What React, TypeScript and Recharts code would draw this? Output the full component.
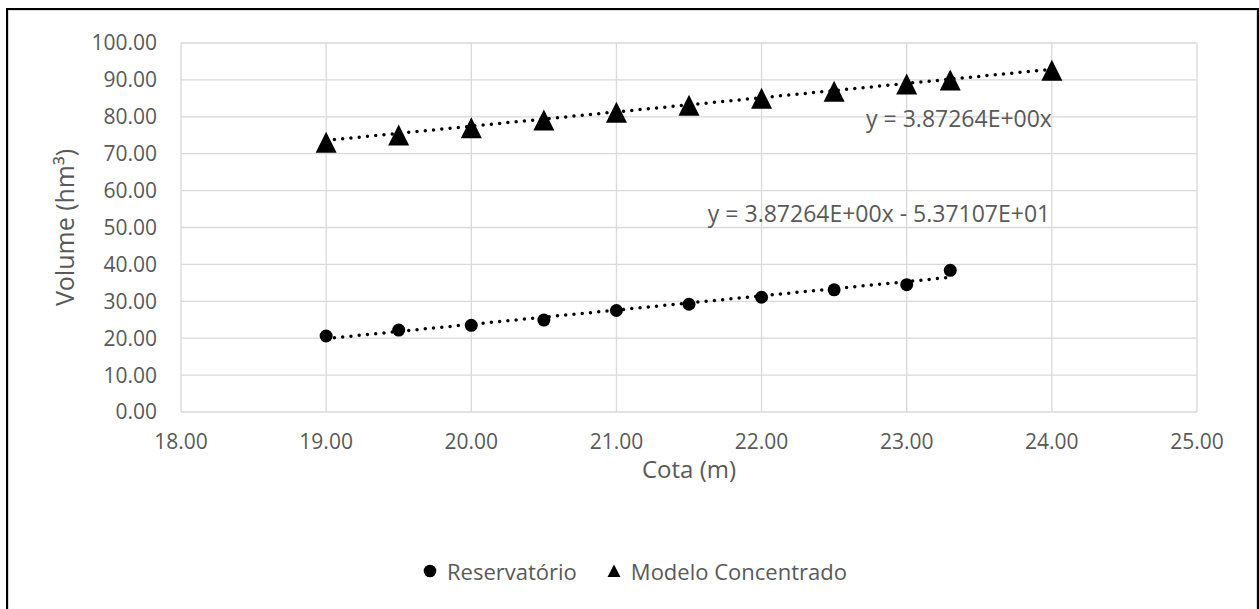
import React from 'react';
import { ScatterChart, Scatter, XAxis, YAxis, CartesianGrid, ReferenceDot } from 'recharts';

const cotaReservatorio = [19, 19.5, 20, 20.5, 21, 21.5, 22, 22.5, 23, 23.3];
const volumeReservatorio = [20.6, 22.2, 23.5, 24.9, 27.5, 29.2, 31.1, 33.1, 34.5, 38.4];
const cotaModelo = [19, 19.5, 20, 20.5, 21, 21.5, 22, 22.5, 23, 23.3, 24];
const volumeModelo = [73.1, 75.1, 77.0, 79.1, 81.2, 83.1, 85.0, 86.9, 88.9, 90.0, 92.6];
const trendReservatorioX = [19, 23.3];
const trendReservatorioY = [19.9, 36.5];
const trendModeloX = [19, 24];
const trendModeloY = [73.6, 92.9];
const xTicks = [18, 19, 20, 21, 22, 23, 24, 25];
const yTicks = [0, 10, 20, 30, 40, 50, 60, 70, 80, 90, 100];
const eqModelo = { x: 22.72, y: 79.8, text: 'y = 3.87264E+00x' };
const eqReservatorio = { x: 21.63, y: 53.9, text: 'y = 3.87264E+00x - 5.37107E+01' };

const zip = (xs: number[], ys: number[]) => xs.map((x, i) => ({ x, y: ys[i] }));
const dataReservatorio = zip(cotaReservatorio, volumeReservatorio);
const dataModelo = zip(cotaModelo, volumeModelo);
const dataTrendRes = zip(trendReservatorioX, trendReservatorioY);
const dataTrendMod = zip(trendModeloX, trendModeloY);

const FONT = '"Open Sans", sans-serif';
const TEXT = '#595959';
const GRID = '#d9d9d9';

const Circle = (p: any) => <circle cx={p.cx} cy={p.cy} r={6.5} fill="#000" />;
const Triangle = (p: any) => (
  <polygon
    points={`${p.cx},${p.cy - 10.5} ${p.cx - 10.5},${p.cy + 10.5} ${p.cx + 10.5},${p.cy + 10.5}`}
    fill="#000"
  />
);
const Empty = () => <g />;

const dotted = { stroke: '#000', strokeWidth: 3.5, strokeDasharray: '0 8.3', strokeLinecap: 'round' as const };

const eqLabel = (text: string) => (props: any) => {
  const vb = props.viewBox || {};
  return (
    <text x={vb.x} y={vb.y} dominantBaseline="central" fontFamily={FONT} fontSize={23} fill={TEXT}>
      {text}
    </text>
  );
};

export default function App() {
  return (
    <div style={{ position: 'absolute', left: 0, top: 0, width: 1259, height: 609, background: '#fff', overflow: 'hidden' }}>
      <div
        style={{
          position: 'absolute', left: 6, top: 8, width: 1253, height: 610, boxSizing: 'border-box',
          border: '2px solid #000',
        }}
      >
        <div style={{ position: 'absolute', inset: 0, border: '1px solid #d9d9d9' }} />
      </div>
      <div style={{ position: 'absolute', left: 0, top: 0 }}>
        <ScatterChart width={1259} height={609} margin={{ top: 43, right: 62, bottom: 167, left: 0 }}>
          <CartesianGrid stroke={GRID} strokeWidth={1.3} horizontal vertical />
          <XAxis
            type="number"
            dataKey="x"
            domain={[18, 25]}
            ticks={xTicks}
            interval={0}
            height={30}
            axisLine={false}
            tickLine={false}
            tickSize={0}
            tickMargin={22}
            tickFormatter={(v: number) => v.toFixed(2)}
            tick={{ fontFamily: FONT, fontSize: 21, fill: TEXT }}
            label={(props: any) => {
              const vb = props.viewBox || {};
              return (
                <text x={vb.x + vb.width / 2} y={468} textAnchor="middle" dominantBaseline="central" fontFamily={FONT} fontSize={24} fill={TEXT}>
                  Cota (m)
                </text>
              );
            }}
          />
          <YAxis
            type="number"
            dataKey="y"
            domain={[0, 100]}
            ticks={yTicks}
            interval={0}
            width={181}
            axisLine={false}
            tickLine={false}
            tickSize={0}
            tickMargin={24}
            tickFormatter={(v: number) => v.toFixed(2)}
            tick={{ fontFamily: FONT, fontSize: 21, fill: TEXT }}
            label={(props: any) => {
              const vb = props.viewBox || {};
              const cx = 64;
              const cy = vb.y + vb.height / 2;
              return (
                <text x={cx} y={cy} transform={`rotate(-90 ${cx} ${cy})`} textAnchor="middle" dominantBaseline="central" fontFamily={FONT} fontSize={25} fill={TEXT}>
                  Volume (hm³)
                </text>
              );
            }}
          />
          <Scatter data={dataReservatorio} shape={Circle} isAnimationActive={false} />
          <Scatter data={dataModelo} shape={Triangle} isAnimationActive={false} />
          <Scatter data={dataTrendRes} shape={Empty} line={dotted} fill="#000" isAnimationActive={false} />
          <Scatter data={dataTrendMod} shape={Empty} line={dotted} fill="#000" isAnimationActive={false} />
          <ReferenceDot x={eqModelo.x} y={eqModelo.y} r={0} fill="none" stroke="none" label={eqLabel(eqModelo.text)} />
          <ReferenceDot x={eqReservatorio.x} y={eqReservatorio.y} r={0} fill="none" stroke="none" label={eqLabel(eqReservatorio.text)} />
        </ScatterChart>
      </div>
      <div
        style={{
          position: 'absolute', left: 423, top: 556, height: 30, display: 'flex', alignItems: 'center',
          fontFamily: FONT, fontSize: 22, color: TEXT, whiteSpace: 'nowrap',
        }}
      >
        <svg width={14} height={14} style={{ marginRight: 10 }}>
          <circle cx={7} cy={7} r={6.3} fill="#000" />
        </svg>
        <span>Reservatório</span>
        <svg width={14} height={14} style={{ marginLeft: 30, marginRight: 10 }}>
          <polygon points="7,0.5 0.5,13 13.5,13" fill="#000" />
        </svg>
        <span>Modelo Concentrado</span>
      </div>
    </div>
  );
}
